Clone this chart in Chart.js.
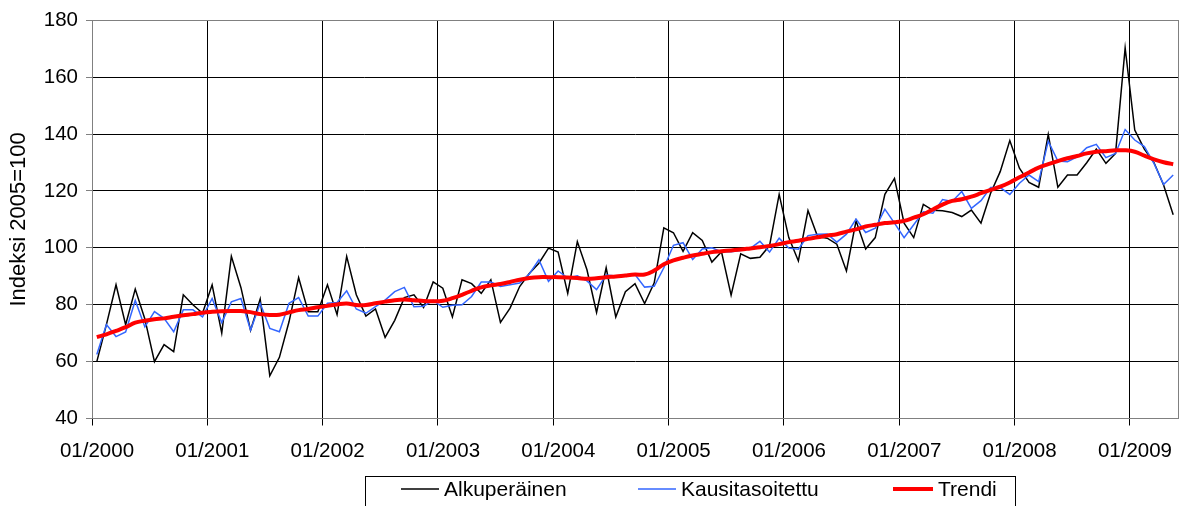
<!DOCTYPE html>
<html><head><meta charset="utf-8">
<script src="https://cdn.jsdelivr.net/npm/chart.js@4/dist/chart.umd.min.js"></script>
<style>html,body{margin:0;padding:0;background:#fff;}</style>
</head><body>
<canvas id="c" width="1182" height="506"></canvas>
<script>
const tickLabels = ['01/2000','01/2001','01/2002','01/2003','01/2004','01/2005','01/2006','01/2007','01/2008','01/2009'];
const seriesNames = ['Alkuperäinen','Kausitasoitettu','Trendi'];
const yTitle = 'Indeksi 2005=100';

const alkuperainen = [
60,73,87,73,85.5,75,60,66,63.5,83.5,80,77,
87,70,97,86,71,82,55,61.5,74,89.5,77.5,77.5,
87,76.5,97,83.5,76,78.5,68.5,74.5,82.5,83.5,79,88,
85.8,75.7,88.8,87.4,84,88.8,73.8,78.8,86.4,91,94.6,99.9,
98.5,84,102.2,92.3,77.3,93,75.7,84.6,87.4,80.4,87.7,107,
105.3,98.8,105.3,102.6,95,98.6,83.4,97.9,96.3,96.7,100.8,118.8,
103.6,95.4,113.1,104,103.4,101.3,91.9,109.5,99.6,103.6,118.8,124.4,
108.7,103.6,115.3,113.2,113,112.4,111,113.3,108.7,119.2,126.8,137.7,
128,123,121.3,139.9,121.3,125.6,125.6,129.9,134.7,129.7,133.2,170.3,
141.4,134.7,130,122.1,111.6];

const kausitasoitettu = [
62.5,73,68.8,70.4,81.5,72.2,77.6,75.2,70.5,78.2,78.2,75.7,
82.2,73.7,81,82.2,71.1,80.5,71.7,70.5,80.5,82.5,76,76,
80.5,80.8,84.9,78.5,77,79.3,81.6,84.6,86.1,79.3,79.5,81.5,
79.1,79.8,80,82.9,88,88,86.4,87,87.6,90.8,95.8,88.2,
91.9,89.4,90.2,88.4,85.3,90.4,90.1,90.4,90.6,86.2,86.5,93,
100.9,101.8,95.9,99.6,100,98.6,98.6,99.1,99.8,102.3,98.5,103.4,
99.9,99.5,104.3,104.8,104.9,102,104.8,110.1,105.4,106.9,113.6,108.7,
103.6,108.1,112.7,112.2,117,116.3,119.8,113.9,116.6,121.2,121.2,118.8,
122.7,125.6,123.3,137.5,130.5,130.3,132,135.2,136.4,131.7,133.2,141.6,
137.9,135.6,129.7,122.3,125.6];

const trendi = [
68.6,69.6,70.8,72.1,73.7,74.4,74.9,75.2,75.8,76.3,76.7,77.2,
77.5,77.7,77.8,77.8,77.4,76.7,76.4,76.5,77.3,78.1,78.5,79.1,
79.6,80.1,80.4,79.9,79.9,80.5,81.1,81.6,81.8,81.6,81.3,81.2,
81.4,82.3,83.5,84.9,86.1,86.8,87.3,88,88.8,89.4,89.7,89.7,
89.7,89.6,89.4,89.1,89.3,89.7,89.9,90.3,90.6,90.6,92,94.2,
95.6,96.5,97.3,97.9,98.5,98.8,99.1,99.4,99.8,100.2,100.7,101.3,
102,102.5,103.2,103.7,104.3,104.8,105.7,106.5,107.5,108.1,108.7,109,
109.5,110.6,111.8,113.5,115.2,116.5,117.1,118,119.2,120.4,121.5,123,
124.8,126.5,128.2,129.4,130.5,131.5,132.3,133.2,133.8,134,134.3,134.3,
133.8,132.4,131.1,130.1,129.4];

const FONT = 'Liberation Sans, Arial, Helvetica, sans-serif';
const toPoints = arr => arr.map((v, i) => ({x: i + 0.5, y: v}));

const frame = {
  id: 'frame',
  beforeDatasetsDraw(chart) {
    const {ctx, chartArea: a} = chart;
    ctx.save();
    ctx.strokeStyle = '#808080';
    ctx.lineWidth = 1;
    const l = Math.round(a.left) + 0.5, t = Math.round(a.top) + 0.5;
    const r = Math.round(a.right) + 0.5, b = Math.round(a.bottom) - 0.5;
    ctx.strokeRect(l, t, r - l, b - t);
    ctx.restore();
  }
};

const legendBox = {
  id: 'legendBox',
  afterDraw(chart) {
    const ctx = chart.ctx;
    ctx.save();
    ctx.strokeStyle = '#000';
    ctx.lineWidth = 1;
    ctx.strokeRect(365.5, 476.5, 650, 40);
    const lineX = [401, 638, 893];
    const lineLen = [38, 38, 40];
    const lineY = 489;
    ctx.font = '21px ' + FONT;
    ctx.fillStyle = '#000';
    ctx.textBaseline = 'alphabetic';
    ctx.textAlign = 'left';
    chart.data.datasets.forEach((ds, i) => {
      ctx.strokeStyle = ds.borderColor;
      ctx.lineWidth = ds.borderWidth;
      ctx.beginPath();
      ctx.moveTo(lineX[i], lineY);
      ctx.lineTo(lineX[i] + lineLen[i], lineY);
      ctx.stroke();
      ctx.fillText(ds.label, lineX[i] + lineLen[i] + 5, 496);
    });
    ctx.restore();
  }
};

new Chart(document.getElementById('c'), {
  type: 'line',
  data: {
    datasets: [
      {label: seriesNames[0], data: toPoints(alkuperainen), borderColor: '#000000', borderWidth: 1.5, pointRadius: 0, tension: 0, order: 3},
      {label: seriesNames[1], data: toPoints(kausitasoitettu), borderColor: '#3366ff', borderWidth: 1.5, pointRadius: 0, tension: 0, order: 2},
      {label: seriesNames[2], data: toPoints(trendi), borderColor: '#ff0000', borderWidth: 4, pointRadius: 0, tension: 0.4, order: 1}
    ]
  },
  options: {
    responsive: false,
    animation: false,
    devicePixelRatio: 1,
    layout: {padding: {left: 0, top: 17, right: 4, bottom: 37.5}},
    plugins: {legend: {display: false}, tooltip: {enabled: false}},
    scales: {
      x: {
        type: 'linear', min: 0, max: 113,
        afterFit(s) { s.height = 50; },
        ticks: {
          stepSize: 12, includeBounds: false, autoSkip: false, maxRotation: 0,
          labelOffset: 5, padding: 14, color: '#000',
          font: {family: FONT, size: 20.5},
          callback: v => tickLabels[v / 12]
        },
        grid: {color: '#000', lineWidth: 1, tickLength: 7, tickColor: '#000'},
        border: {color: '#808080', width: 1}
      },
      y: {
        min: 40, max: 180,
        afterFit(s) { s.width = 92; },
        ticks: {stepSize: 20, padding: 8, color: '#000', font: {family: FONT, size: 20.5}},
        grid: {
          color: c => (c.tick && (c.tick.value === 40 || c.tick.value === 180)) ? '#808080' : '#000',
          lineWidth: 1, tickLength: 6, tickColor: '#808080'
        },
        border: {color: '#808080', width: 1},
        title: {display: true, text: yTitle, color: '#000', font: {family: FONT, size: 22}, padding: {top: 6, bottom: 0}}
      }
    }
  },
  plugins: [frame, legendBox]
});
</script>
</body></html>
